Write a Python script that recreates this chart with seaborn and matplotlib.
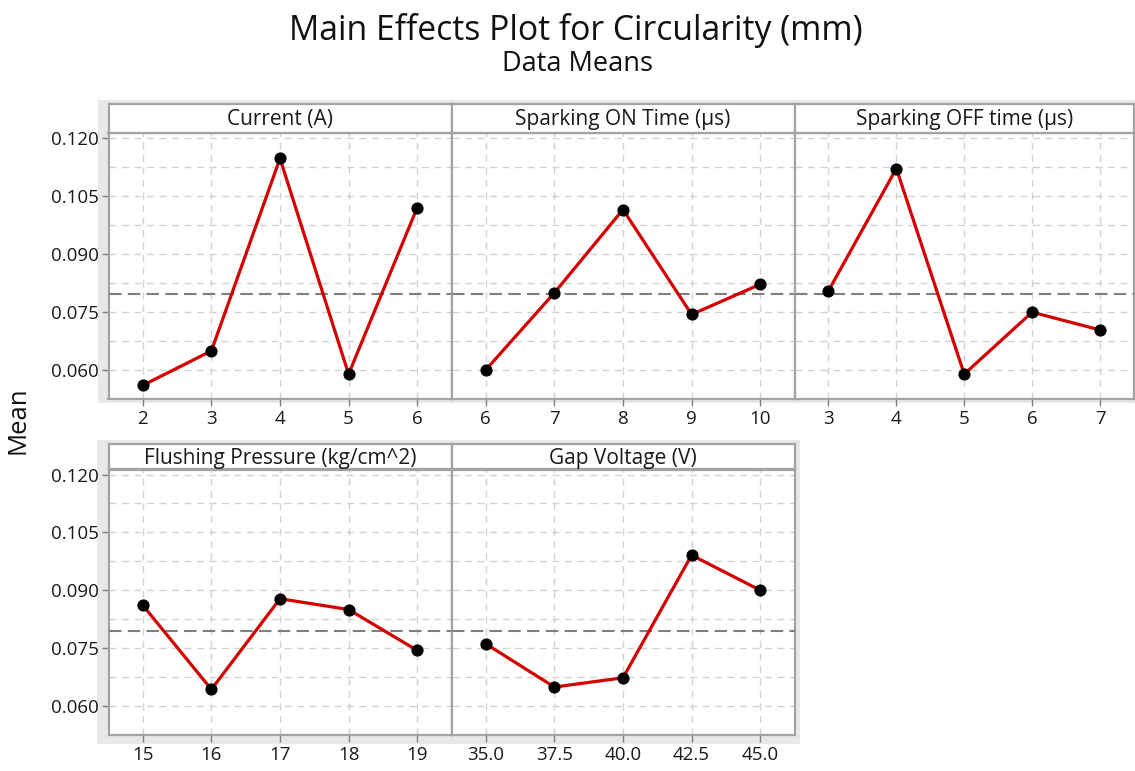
import matplotlib
matplotlib.use("Agg")
import matplotlib.pyplot as plt
import matplotlib.patches as mpatches
from matplotlib.ticker import MultipleLocator, FixedLocator
import seaborn as sns
import pandas as pd

sns.set_theme(style="white")
plt.rcParams['font.family'] = ['Open Sans', 'DejaVu Sans']

# ---- data ----
factors = ["Current (A)", "Sparking ON Time (µs)", "Sparking OFF time (µs)",
           "Flushing Pressure (kg/cm^2)", "Gap Voltage (V)"]
current_levels = [2, 3, 4, 5, 6]
current_means = [0.0560, 0.0649, 0.1146, 0.0589, 0.1019]
son_levels = [6, 7, 8, 9, 10]
son_means = [0.0600, 0.0799, 0.1014, 0.0743, 0.0821]
soff_levels = [3, 4, 5, 6, 7]
soff_means = [0.0804, 0.1120, 0.0589, 0.0749, 0.0703]
flush_levels = [15, 16, 17, 18, 19]
flush_means = [0.0861, 0.0643, 0.0878, 0.0850, 0.0744]
gap_levels = [35.0, 37.5, 40.0, 42.5, 45.0]
gap_means = [0.0761, 0.0649, 0.0673, 0.0991, 0.0900]
gap_ticklabels = ["35.0", "37.5", "40.0", "42.5", "45.0"]
grand_mean = 0.0795
y_ticks = [0.060, 0.075, 0.090, 0.105, 0.120]
y_ticklabels = ["0.060", "0.075", "0.090", "0.105", "0.120"]

W, H = 1135, 771
fig = plt.figure(figsize=(W / 100, H / 100), dpi=100)

def rect(x0, y0, x1, y1):
    # pixel coords (top-left origin) -> figure fraction
    return [x0 / W, 1 - y1 / H, (x1 - x0) / W, (y1 - y0) / H]

# gray background frames
bg = fig.add_axes([0, 0, 1, 1], zorder=-10)
bg.set_xlim(0, W)
bg.set_ylim(H, 0)
bg.axis("off")
for (x0, y0, x1, y1) in [(98, 100, 1135, 403), (97, 440, 800, 744)]:
    bg.add_patch(mpatches.Rectangle((x0, y0), x1 - x0, y1 - y0, facecolor="#e8e8e8",
                                    edgecolor="none"))

panels = [
    (factors[0], current_levels, current_means, None, (108.5, 104, 451.5, 132.5, 398.5), True),
    (factors[1], son_levels, son_means, None, (451.5, 104, 794.5, 132.5, 398.5), False),
    (factors[2], soff_levels, soff_means, None, (794.5, 104, 1134, 132.5, 398.5), False),
    (factors[3], flush_levels, flush_means, None, (108.5, 444, 451.5, 469.5, 734.5), True),
    (factors[4], gap_levels, gap_means, gap_ticklabels, (451.5, 444, 794.5, 469.5, 734.5), False),
]

spine_col = "#a3a3a3"
fs_tick = 13.5
for title, lv, mv, tl, (x0, ys, x1, yp, yb), left in panels:
    ax = fig.add_axes(rect(x0, yp, x1, yb))
    ax.set_facecolor("white")
    df = pd.DataFrame({"level": lv, "mean": mv})
    sns.lineplot(data=df, x="level", y="mean", ax=ax, color="#d40000", linewidth=2.3,
                 marker="o", markersize=8, markerfacecolor="black", markeredgecolor="black",
                 zorder=5)
    step = lv[1] - lv[0]
    ax.set_xlim(lv[0] - step / 2, lv[-1] + step / 2)
    ax.set_ylim(0.0526, 0.1213)
    ax.axhline(grand_mean, color="#7f7f7f", linestyle=(0, (6, 3)), linewidth=1.5, zorder=3)
    ax.xaxis.set_major_locator(FixedLocator(lv))
    if tl is not None:
        ax.set_xticklabels(tl)
    ax.yaxis.set_major_locator(FixedLocator(y_ticks))
    ax.yaxis.set_minor_locator(MultipleLocator(0.0075))
    ax.grid(True, which="major", axis="x", color="#d2d2d2", linestyle=(0, (5, 4)), linewidth=1)
    ax.grid(True, which="both", axis="y", color="#d2d2d2", linestyle=(0, (5, 4)), linewidth=1)
    ax.set_axisbelow(True)
    ax.tick_params(axis="x", which="both", direction="out", length=5, width=1, color="#808080",
                   labelsize=fs_tick, pad=3, bottom=True, labelcolor="#1a1a1a")
    if left:
        ax.set_yticklabels(y_ticklabels)
        ax.tick_params(axis="y", which="major", direction="out", length=5, width=1, color="#808080",
                       labelsize=fs_tick, pad=2, left=True, labelcolor="#1a1a1a")
    else:
        ax.tick_params(axis="y", which="both", left=False, labelleft=False)
    ax.tick_params(axis="y", which="minor", left=False)
    ax.set_xlabel("")
    ax.set_ylabel("")
    for s in ax.spines.values():
        s.set_color(spine_col)
        s.set_linewidth(1.6)
    # strip
    sax = fig.add_axes(rect(x0, ys, x1, yp))
    sax.set_facecolor("white")
    sax.set_xticks([])
    sax.set_yticks([])
    for s in sax.spines.values():
        s.set_color(spine_col)
        s.set_linewidth(1.6)
    sax.text(0.5, 0.45, title, ha="center", va="center", fontsize=15, color="#1a1a1a",
             transform=sax.transAxes)

fig.text(576 / W, 1 - 30 / H, "Main Effects Plot for Circularity (mm)", ha="center", va="center",
         fontsize=24.3, color="#111111")
fig.text(577 / W, 1 - 64 / H, "Data Means", ha="center", va="center", fontsize=19.5, color="#111111")
fig.text(18 / W, 1 - 420 / H, "Mean", ha="center", va="center", rotation=90, fontsize=18.5,
         color="#111111")

fig.savefig("out.png", dpi=100)
